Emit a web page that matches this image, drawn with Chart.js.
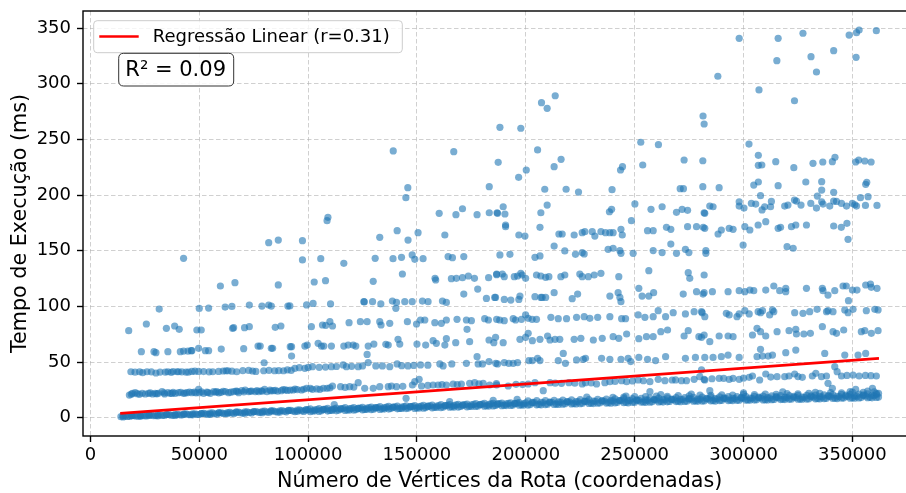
<!DOCTYPE html>
<html lang="pt-BR">
<head>
<meta charset="utf-8">
<title>Tempo de Execução x Número de Vértices</title>
<script src="https://cdn.jsdelivr.net/npm/chart.js@4.4.1/dist/chart.umd.min.js"></script>
<style>
  html, body { margin: 0; padding: 0; background: #fff; overflow: hidden; }
  #grafico { display: block; }
</style>
</head>
<body>
<canvas id="grafico" width="920" height="493"></canvas>
<script>
// Dados: [milhares de vértices, tempo em ms]
const faixaBase = [[14,1.0],[16,1.5],[18,1.2],[20,1.9],[22,1.4],[24,2.1],[26,1.6],[28,2.4],[30,1.8],[32,2.6],[34,2.0],[36,2.9],[38,2.2],[40,3.1],[42,2.4],[44,3.4],[46,2.7],[48,3.6],[50,2.9],[52,3.9],[54,3.1],[56,4.3],[58,3.3],[60,4.5],[62,3.6],[64,4.8],[66,3.9],[68,5.1],[70,4.0],[72,5.3],[74,4.3],[76,5.6],[78,4.6],[80,5.9],[82,4.8],[84,6.2],[86,5.0],[88,6.4],[90,5.3],[92,6.7],[94,5.5],[96,7.0],[98,5.7],[100,7.2],[102,6.0],[104,7.4],[106,6.3],[108,7.7],[110,6.5],[112,8.0],[114,6.8],[116,8.2],[118,7.0],[120,8.5],[122,7.2],[124,8.7],[126,7.5],[128,9.0],[130,7.7],[132,9.2],[134,8.0],[136,9.5],[138,8.2],[140,9.7],[142,8.4],[144,10.0],[146,8.7],[148,10.2],[150,8.9],[152,10.5],[154,9.1],[156,10.7],[158,9.4],[160,11.0],[162,9.6],[164,11.2],[166,9.9],[168,11.5],[170,10.1],[172,11.7],[174,10.3],[176,12.0],[178,10.6],[180,12.2],[182,10.8],[184,12.5],[186,11.0],[188,12.7],[190,11.2],[192,12.9],[194,11.4],[196,13.1],[198,11.6],[200,13.3],[202,11.8],[204,13.5],[206,12.0],[208,13.7],[210,12.2],[212,13.9],[214,12.4],[216,14.0],[218,12.6],[220,14.2],[222,12.8],[224,14.4],[226,13.0],[228,14.6],[230,13.2],[232,14.8],[234,13.3],[236,15.0],[238,13.5],[240,15.1],[242,13.7],[244,15.3],[246,13.8],[248,15.5],[250,14.0],[252,15.6],[254,14.2],[256,15.8],[258,14.3],[260,15.9],[262,14.5],[264,16.1],[266,14.6],[268,16.2],[270,14.8],[272,16.4],[274,14.9],[276,16.5],[278,15.1],[280,16.7],[282,15.2],[284,16.8],[286,15.4],[288,17.0],[290,15.5],[292,17.1],[294,15.7],[296,17.2],[298,15.8],[300,17.4],[302,16.0],[304,17.5],[306,16.1],[308,17.7],[310,16.2],[312,17.8],[314,16.4],[316,17.9],[318,16.5],[320,18.1],[322,16.7],[324,18.2],[326,16.8],[328,18.4],[330,17.0],[332,18.5],[334,17.2],[336,18.7],[338,17.3],[340,18.9],[342,17.5],[344,19.0],[346,17.7],[348,19.2],[350,17.9],[352,19.4],[354,18.1],[356,19.6],[358,18.3],[360,19.8],[362,18.6]];
const faixaBaseSup = [[15,0.7],[19,1.8],[23,1.3],[27,2.5],[31,1.7],[35,2.9],[39,2.1],[43,3.3],[47,2.6],[51,3.8],[55,3.1],[59,4.4],[63,3.6],[67,5.0],[71,4.1],[75,5.5],[79,4.5],[83,6.1],[87,5.1],[91,6.6],[95,5.6],[99,7.1],[103,6.0],[107,7.6],[111,6.5],[115,8.1],[119,6.9],[123,8.5],[127,7.4],[131,9.0],[135,7.8],[139,9.5],[143,8.3],[145,17.4],[147,10.0],[151,8.7],[155,10.4],[159,9.2],[163,10.9],[167,9.6],[171,11.4],[175,10.1],[179,11.9],[183,10.5],[187,12.4],[191,10.9],[195,12.9],[199,11.3],[203,13.4],[207,11.6],[211,13.8],[215,12.0],[219,14.3],[223,12.4],[227,14.7],[231,12.7],[235,15.1],[239,13.0],[243,15.5],[247,13.4],[251,15.9],[255,13.8],[259,16.3],[263,14.1],[267,16.7],[271,14.4],[275,17.1],[279,14.7],[283,17.5],[287,15.0],[291,17.8],[295,15.4],[299,18.2],[303,15.7],[307,18.5],[311,16.0],[315,18.9],[319,16.3],[323,19.2],[327,16.6],[331,19.6],[335,16.9],[339,19.9],[343,17.2],[347,20.3],[351,17.6],[355,20.6],[359,17.9],[361,20.9],[112,11.8],[165,14.5],[185,15.6],[196,16.5],[228,18.5],[246,19.5],[262,20.8],[276,21.3],[300,22.3],[318,23.2],[333,22.8],[349,23.5],[357,24.0]];
const faixaBaseMeio = [[15,1.6],[17,1.1],[19,1.8],[21,1.4],[23,2.0],[25,1.6],[27,2.3],[29,1.8],[31,2.5],[33,2.1],[35,2.8],[37,2.3],[39,3.0],[41,2.6],[43,3.3],[45,2.8],[47,3.5],[49,3.1],[51,3.8],[53,3.4],[55,4.1],[57,3.6],[59,4.4],[61,3.9],[63,4.7],[65,4.2],[67,5.0],[69,4.5],[71,5.2],[73,4.7],[75,5.4],[77,5.0],[79,5.7],[81,5.2],[83,6.0],[85,5.5],[87,6.2],[89,5.8],[91,6.5],[93,6.0],[95,6.8],[97,6.3],[99,7.0],
  [101,7.9],[103,7.0],[105,8.1],[107,7.3],[109,8.4],[111,7.6],[113,8.7],[115,7.8],[117,9.0],[119,8.1],[121,9.2],[123,8.4],[125,9.3],[127,8.6],[129,9.6],[131,8.9],[133,9.9],[135,9.1],[137,10.2],[139,9.4],[141,10.5],[143,9.6],[145,10.6],[147,9.9],[149,10.9],[151,10.1],[153,11.1],[155,10.2],[157,11.4],[159,10.5],[161,11.7],[163,10.8],[165,11.8],[167,11.0],[169,12.1],[171,11.3],[173,12.3],[175,11.5],[177,12.6],[179,11.7],[181,12.9],[183,12.0],[185,13.0],[187,12.2],[189,13.2],[191,12.4],[193,13.4],[195,12.6],[197,13.6],[199,12.8],
  [201,15.2],[203,13.8],[205,15.3],[207,13.9],[209,15.5],[211,14.1],[213,15.7],[215,14.2],[217,15.8],[219,14.4],[221,16.0],[223,14.6],[225,16.2],[227,14.8],[229,16.4],[231,15.0],[233,16.6],[235,15.2],[237,16.7],[239,15.3],[241,16.9],[243,15.5],[245,17.1],[247,15.6],[249,17.2],[251,15.8],[253,17.4],[255,16.0],[257,17.6],[259,16.1],[261,17.7],[263,16.3],[265,17.9],[267,16.4],[269,18.0],[271,16.5],[273,18.1],[275,16.7],[277,18.3],[279,16.8],[281,18.5],[283,17.0],[285,18.6],[287,17.1],[289,18.8],[291,17.3],[293,18.9],[295,17.5],[297,19.0],[299,17.6],[301,19.2],[303,17.7],[305,19.3],[307,17.9],[309,19.5],[311,18.0],[313,19.6],[315,18.2],[317,19.8],[319,18.3],[321,19.9],[323,18.4],[325,20.0],[327,18.6],[329,20.2],[331,18.8],[333,20.4],[335,19.0],[337,20.5],[339,19.1],[341,20.7],[343,19.3],[345,20.9],[347,19.4],[349,21.1],[351,19.6],[353,21.3],[355,19.9],[357,21.5],[359,20.1],[361,21.8]];
const faixaBaseInf = [[101,5.4],[105,5.7],[109,6.0],[113,6.2],[117,6.5],[121,6.8],[125,7.0],[129,7.3],[133,7.5],[137,7.8],[141,8.0],[145,8.2],[149,8.4],[153,8.6],[157,8.9],[161,9.1],[165,9.4],[169,9.6],[173,9.8],[177,10.1],[181,10.3],[185,10.6],[189,10.8],[193,11.0],[197,11.2],[201,11.4],[205,11.6],[209,11.8],[213,12.0],[217,12.2],[221,12.4],[225,12.6],[229,12.8],[233,13.0],[237,13.2],[241,13.3],[245,13.5],[249,13.7],[253,13.9],[257,14.0],[261,14.2],[265,14.3],[269,14.5],[273,14.6],[277,14.8],[281,15.0],[285,15.1],[289,15.3],[293,15.4],[297,15.6],[301,15.7],[305,15.9],[309,16.0],[313,16.2],[317,16.3],[321,16.5],[325,16.6],[329,16.8],[333,17.0],[337,17.1],[341,17.3],[345,17.5],[349,17.6],[353,17.8],[357,18.0],[361,18.2],
  [240,18.4],[245,18.6],[250,19.0],[255,19.0],[260,19.5],[265,19.3],[270,19.8],[275,19.7],[280,20.3],[285,20.1],[290,20.6],[295,20.4],[300,21.0],[305,20.8],[310,21.3],[315,21.1],[320,21.7],[325,21.5],[330,22.0],[335,21.9],[340,22.5],[345,22.3],[350,23.0],[355,22.8],[360,23.3],[362,22.0]];
const faixa1 = [[17.9,20.4],[18.8,21.2],[19.4,21.9],[20.6,22.5],[21.5,21.6],[22.5,21.0],[23.8,22.0],[25.2,21.3],[26.7,21.9],[27.5,22.3],[28.6,21.3],[29.8,21.9],[30.5,21.5],[31.2,22.0],[32.9,23.4],[33.8,22.4],[34.1,21.3],[35.6,22.5],[36.7,21.9],[37.5,21.8],[38,22.8],[39,21.9],[40.5,22.5],[41.5,22.9],[42.8,21.9],[43.5,22.2],[44.4,22.5],[45.5,23.1],[46.6,22.5],[47.8,23.0],[48.5,22.4],[49.7,25.5],[50,22.5],[51,23.3],[52,21.9],[53.5,23.0],[54,22.6],[55.1,21.9],[56.6,23.4],[57.5,23.0],[58.1,23.4],[59,22.4],[60,22.8],[61,23.8],[62,23.4],[63.5,22.5],[64.5,23.0],[65.8,23.4],[66.9,24.0],[67.5,23.6],[68.1,22.5],[69.5,24.3],[70.5,23.3],[71.1,24.9],[72.7,23.4],[73.5,23.8],[74,24.0],[75.7,23.4],[76.5,24.4],[77.3,23.4],[78.5,24.2],[79,23.8],[80,25.5],[81.1,23.4],[82.5,24.8],[83,24.0],[84.1,24.3],[85,24.6],[86,23.8],[87.7,24.3],[88.5,25.2],[89.5,25.0],[90.5,24.5],[91.8,24.9],
  [93.1,24.9],[94,25.8],[95,25.2],[97,24.9],[98,25.6],[99.3,26.4],[101,26.3],[102,25.5],[104,25.9],[105.4,25.5],[107,26.5],[108.7,26.4],[110,26.8],[111.2,28.5],[114.9,27.9],[117,27.2],[119.1,27.9],[121,27.5],[123,31.5],[126,26.4],[129.9,26.4],[132.9,27.9],[136.8,27.9],[138.3,28.5],[140.6,27.9],[143.5,28.2],[147.9,29.4],[149,32.4],[151,34.5],[152.1,28.5],[155,29.0],[157.4,29.4],[159.7,29.4],[161.5,29.8],[163.5,29.4],[166.6,30.3],[168.5,29.8],[170.4,30.3],[174.2,30.9],[176.5,31.5],[178.5,30.5],[180.4,30.9],[183.4,29.4],[186.5,30.6],
  [186.6,29.4],[191.9,28.5],[195.5,30.0],[198.5,29.8],[201.1,30.3],[204.2,31.5],[208,24.3],[211.1,31.5],[213.5,31.0],[216.4,30.9],[219.8,31.5],[222.5,31.0],[225.9,30.3],[227.4,31.5],[230,31.2],[232.5,30.3],[236.3,31.5],[238.6,32.4],[241,32.6],[244,33.3],[246.3,32.4],[249,33.0],[251.6,33.9],[254,33.2],[257,32.4],[257,23.4],[260.8,34.5],[263.9,33.3],[267.2,33.9],[268.8,34.0],[271.5,33.3],[273.8,33.3],[277.3,34.5],[279.9,36.9],[281.9,34.5],
  [280.7,42.9],[282.2,33.9],[284.5,24.3],[285.5,35.0],[288.8,35.4],[290.9,35.4],[293.4,34.5],[295.2,35.4],[298,34.5],[300,35.5],[302.6,36.3],[304.1,37.5],[307.4,33.9],[310.2,39.3],[312.5,36.5],[315.4,36.9],[318.9,36.9],[320.9,37.5],[323.5,39.3],[325,37.0],[327,36.3],[331.6,37.5],[333.2,39.9],[335.8,36.9],[338.1,37.5],[338.8,30.9],[340.8,26.4],[341.9,45.9],[343,41.4],[345,37.5],[347.5,38.0],[350.3,38.4],[351.5,25.5],[353.1,37.5],[356,38.0],[358.5,37.8],[359.2,26.4],[361,37.5]];
const faixa2 = [[18.6,41.3],[20.5,40.9],[22.6,41.3],[24,40.5],[26,41.3],[28,41.2],[30.1,40.2],[32,41.0],[34.4,41.0],[35.6,41.3],[37.1,40.8],[38,41.5],[39.8,41.3],[40.5,41.3],[42,41.2],[43.9,41.0],[45,40.9],[46.6,41.6],[48,41.8],[49.7,41.6],[52,41.5],[54.5,41.2],[56.2,41.3],[58.9,41.6],[61,42.0],[62.3,42.2],[63.2,42.2],[65,41.8],[67.2,41.3],[70,42.3],[72.7,42.5],[74.5,42.0],[76,41.6],[79.6,42.2],[79.8,49.4],[82,42.6],[84.6,42.2],[86.5,42.3],[88.7,42.2],[90.5,43.0],[92.2,42.5],
  [92.4,55.4],[93.9,44.4],[96,45.0],[98.5,44.4],[100,45.2],[102,45.9],[105.1,45.3],[108,45.5],[110.7,45.9],[113,46.0],[116.1,47.4],[117.6,45.9],[120,46.2],[123,45.9],[125,46.5],[127.1,56.9],[127.6,49.5],[131.1,46.5],[134.1,46.5],[137.5,45.9],[140.9,48.3],[143,46.8],[145.9,46.5],[148.5,47.0],[151.6,47.4],[155,47.2],[160.5,48.3],[162,46.5],[166,48.3],[172.7,48.9],[177.6,54.8],[178.1,48.3],[180.1,48.3],[183.1,50.4],[186.2,48.9],
  [187,48.3],[190.1,49.5],[192.2,48.9],[194.2,48.9],[196.2,49.5],[201.4,51.3],[203,51.3],[205.4,53.4],[206.5,51.3],[214.9,51.3],[217.2,57.8],[218.2,48.9],[223.3,51.9],[226.4,52.5],[227.4,53.4],[234.8,53.4],[238.6,52.5],[243.7,52.5],[247,53.4],[248.2,50.4],[251.9,54.2],[255.9,52.5],[259.6,51.3],[264.2,54.8],[273.3,53.4],[277.9,54.2],[282.2,54.2],
  [286,54.2],[289.8,54.8],[292.9,56.3],[298,54.2],[306.2,54.8],[307.8,61.4],[308.7,55.4],[311.3,55.4],[313.3,56.3],[319.4,58.4],[324,60.8],[337.3,57.8],[346.5,56.3],[352.6,56.3],[356.1,57.8]];
const faixa3 = [[23.4,59.3],[29.2,59.3],[30.1,58.4],[35.6,59.3],[41.3,59.3],[42.8,59.9],[44.8,59.9],[46.3,60.2],[46.6,60.2],[49.7,62.3],[52.8,60.2],[54.3,60.2],[60.1,61.7],[70.4,62.0],[77,64.4],[78,64.4],[83.1,62.3],[83.7,62.3],[91.8,63.8],
  [92.4,63.8],[98.5,64.4],[99.6,65.3],[104.6,66.8],[106.1,64.4],[107.2,64.4],[110.7,64.4],[116.4,64.4],[118.4,65.3],[120.7,65.3],[121.9,64.4],[127.6,64.4],[130.2,66.2],[135.7,65.9],[136.8,65.3],[141.3,70.4],[142.1,66.2],[150,66.2],[154,65.3],[157.4,69.2],[158.9,66.8],[162.8,65.3],[163.5,71.0],[167.8,67.4],[174.2,68.3],[183.1,69.8],[185.3,67.4],
  [186.1,72.2],[189.6,67.4],[197.3,70.4],[199.9,72.2],[201.1,75.8],[203,69.2],[206.5,70.4],[210,73.4],[211.1,69.8],[213.4,70.4],[215.6,70.4],[222.2,70.4],[225.3,71.3],[231,69.8],[235.1,71.3],[240.1,72.8],[242.7,71.3],[246.3,75.2],[251.9,71.0],[255.4,72.8],[258.5,72.8],[262,77.3],[265.1,78.8],[272.7,73.4],[274.6,78.2],[279.5,72.8],[281.9,74.3],
  [280.7,72.2],[284.5,68.3],[288.8,73.4],[292.9,73.4],[295.2,72.8],[304.1,74.3],[306.2,80.3],[307.8,77.3],[310.2,73.4],[315.4,77.3],[320.9,78.2],[324,79.4],[324.3,75.2],[327.7,75.2],[330.7,75.8],[336.2,81.8],[341.1,77.3],[342.7,75.8],[346,78.8],[354.1,77.3],[355.7,78.2],[358.7,75.8],[361.8,78.2]];
const faixa4 = [[17.6,78.2],[25.7,84.2],[34.9,80.3],[38.7,82.4],[40.8,79.4],[48.9,78.8],[50.9,78.8],[65.3,80.3],[65.8,80.9],[70.8,80.9],[73,81.8],[84.9,81.2],[87.5,82.4],
  [101.5,81.8],[106.6,83.3],[108.1,83.0],[110,86.3],[111.2,82.4],[118.8,85.4],[124,86.3],[127.1,86.3],[132.9,86.3],[133.5,83.3],[137.5,84.8],[145.6,86.3],[149.8,84.2],[151.6,87.8],[153.6,87.8],[158.2,85.4],[161.2,84.8],[163.5,87.8],[168.4,88.4],[173,79.4],[172.7,87.8],[175,87.2],[181.1,89.0],[182.8,87.8],[188,87.8],
  [186.6,88.4],[190.1,87.2],[194.2,89.0],[195.3,87.8],[198,88.4],[199.9,92.3],[201.1,89.3],[202.9,88.4],[204.9,88.4],[211.5,90.2],[214.9,89.0],[218.7,89.0],[223.3,90.2],[226.8,90.8],[229.4,89.3],[233,90.2],[238.6,90.8],[244,89.0],[245.8,89.0],[251.6,92.3],[254.7,90.2],[258.5,90.8],[260.8,96.2],[264.2,90.8],[267.7,94.4],[273.3,93.2],[277.3,95.3],[281,94.4],
  [280.7,95.3],[282.2,90.8],[292.1,93.8],[293.4,92.3],[297,90.8],[298,93.2],[300.6,96.2],[302.6,93.2],[306.7,95.3],[307.8,94.4],[308.7,96.2],[312,92.3],[313.3,96.8],[313.9,95.3],[323.5,94.4],[327.3,93.8],[330.4,95.3],[333.8,97.4],[338.1,95.3],[338.8,96.2],[341.1,95.3],[346.5,96.8],[348,94.4],[350.3,97.4],[356.4,96.2],[360.3,97.4],[361.8,96.8]];
const faixa5 = [[31.6,97.6],[50,98.2],[54.3,98.5],[61.9,99.4],[65,100.0],[73,101.2],[78.8,100.3],[81.9,101.2],[83.1,100.3],[90.7,100.3],
  [91.6,100.4],[99.3,101.3],[102.3,102.7],[110.3,102.2],[125.6,104.2],[125.8,104.0],[129.6,104.2],[133.4,102.2],[138.7,104.8],[140.3,98.3],[140.6,103.6],[144.4,104.2],[147.8,104.2],[152.5,104.8],[155.1,104.2],[161.7,104.8],[163.5,103.6],[171.5,111.1],[177.9,115.6],[181.9,107.2],[185.7,108.1],
  [186.1,108.1],[190.1,106.3],[193.1,105.7],[196.8,106.3],[197.3,109.3],[204.2,108.7],[206.9,108.1],[207.5,108.1],[209.1,108.1],[213,112.3],[221.3,106.9],[223.8,111.1],[238.6,109.3],[242.4,112.3],[243.2,108.1],[243.7,104.2],[251.9,116.2],[253.4,109.3],[256.5,109.3],[258.7,112.3],[272.3,111.1],[278.4,113.2],[281.9,112.3],
  [281.4,111.1],[285.7,113.2],[292.9,113.2],[298,114.1],[300.6,113.2],[302.9,114.7],[304.7,114.1],[310.2,114.7],[313.9,118.3],[316.6,114.1],[319.4,116.2],[319.4,113.2],[328.9,116.2],[336.2,116.2],[336.5,114.1],[338.8,110.2],[341.9,114.1],[345.7,118.3],[347.2,118.3],[348.2,105.1],[350,114.7],[352.1,114.7],[356.1,119.2],[358.3,120.1],[358.7,117.1],[361.3,116.2]];
const faixa6 = [[59.7,118.3],[66.4,121.3],[86.3,119.3],[102.8,121.9],[108,123.1],[129.9,122.5],[143.3,129.1],[158.3,125.2],[158.6,123.7],[165.8,124.9],[168.1,125.2],[170.9,125.8],[173.6,127.3],[176.4,125.2],[182.9,125.8],[186.6,128.5],
  [186.6,129.1],[189.2,129.1],[190.1,126.7],[194.7,126.7],[196.2,127.3],[197.7,129.7],[198.3,128.2],[199.9,125.2],[204.9,128.2],[206.9,127.3],[209.1,126.1],[210.6,126.7],[216.1,126.7],[217.9,128.2],[224.8,129.1],[225.9,126.7],[228.7,126.7],[231.4,128.2],[234.5,129.7],[242.7,126.7],[256.5,132.1],[274.6,130.3],[275.3,125.2],[281.9,128.2]];
const faixa7 = [[42.8,143.2],[81.9,157.2],[86.3,159.6],[97.4,141.7],[97.4,159.0],[105.8,142.9],[116.4,138.7],[130.8,143.2],[132.9,162.0],[139,142.9],[142.9,144.1],[145.9,159.6],[147.8,146.2],[149,142.3],[152.8,142.9],[162.8,164.1],[164.3,144.7],[166.3,143.8],[171.5,144.7],
  [188.1,146.2],[192.7,146.8],[204.2,144.1],[206.5,145.3],[213,154.2],[217.9,149.8],[222.8,146.8],[225.9,148.3],[226.8,147.1],[237.8,151.3],[240.1,152.2],[243.2,150.1],[243.7,147.7],[249.3,147.7],[258.5,150.1],[262.6,148.3],[266.6,156.0],[269.2,147.7],[273.3,151.3],[274.9,148.3],
  [282.7,150.1],[282.7,147.7],[299.8,155.1],[320,153.6],[322.8,152.2],[348,160.2]];
const pontosAltos = [[108.7,177],[140.9,168],[150.5,166.2],[190.7,171.6],[196.8,164.1],[199.6,163.2],[206.5,171],[215.2,165],[216.7,165],[222.2,164.1],[225.9,166.2],[227.1,167.1],[230.5,167.1],[231.7,163.2],[234.5,167.1],[236.6,166.2],[238.6,166.2],[240.1,166.2],[243.7,169.2],[244.3,164.1],[248.5,177],[255.9,168],[258.5,168],[264.6,171],[266.6,169.2],[274.3,171.6],[278.4,171.6],[281.5,171],
  [282.2,170.1],[288.3,165],[289.8,168.6],[293.4,170.1],[295.2,169.2],[300.6,171.6],[302.9,168.6],[306.7,173.1],[310.2,176.1],[315.9,170.1],[317,171],[322,171.6],[324,173.1],[328.9,173.1],[341.4,172.2],[344.9,171],[347.5,174.6],
  [139.1,239.6],[166.9,239],[145.8,206.6],[144.9,197.6],[109.1,180],[160.2,183.6],[167.9,182.4],[170.9,187.7],[177.6,182.4],[183.2,184.1],[186.8,184.1],[188.1,260.8],[187.3,229.4],[183.2,207.5],
  [197.7,260],[207.2,283],[209.8,277.9],[213.5,289.2],[205.4,240.5],[216.2,232.1],[213,225.5],[200.2,222.5],[196.7,215.9],[208.7,205.2],[218.5,205.2],[224.2,202.7],[239.6,204.8],[243.5,222.5],[244.4,225.5],[252.8,247.4],[253.7,227],[260.9,245.2],[272.7,231.5],[270.9,205.7],[272.4,205.7],[281.4,271],[281.9,263.8],[281.3,230.8],[281.3,207.5],[189.6,189.5],[187,183.6],[190.4,183],[206.9,184.1],[209.8,191],[238.4,185],[239.4,187.2],[250.1,192],[257.5,187.2],[262.6,189.5],[269.2,184.5],[271.8,187.2],[274.3,186.3],[281.9,184.1],[190.7,173],
  [298,340.8],[315.9,340.8],[327.3,345.3],[348.5,343.7],[351.9,345.8],[353.1,348.2],[361,347.6],[341.4,329.7],[331,324.3],[351.7,323.7],[315.3,320.7],[333.5,310.5],[288.2,306.7],[307.1,294.4],[323.4,284.7],[302.5,245.8],[306.8,235.7],[306.8,226.7],[308.4,227],[314.8,230],[323.1,224.6],[331.9,228.5],[336.4,229.7],[340.8,230],[342,233.9],[351.5,229.7],[352.9,231.5],[355.7,230.6],[358.6,229.7],
  [288.8,206.6],[304.7,209],[306.8,211.7],[315.9,208.4],[328.6,211.7],[335.9,212],[335.9,204.5],[341.4,202.5],[356.1,209.6],[356.6,211.4],[307.8,199.4],[333.9,199.1],[353.7,197.6],[357.2,198.5],
  [282.2,183.6],[284.5,190.1],[286,189.5],[298,193.9],[298,190.1],[300.2,188.3],[303.6,192.5],[305.6,191.9],[308.5,186.6],[309.7,189.5],[312.4,189.5],[312.8,194.3],[318.9,190.1],[320.4,191],[323.4,195.5],[324.3,194.6],[326.4,191],[330.9,192.5],[333.5,188.3],[335.9,193.9],[336.5,191.9],[339.6,190.1],[341.4,194.6],[342.7,194.3],[345,192.5],[347.3,190.1],[350,192.5],[351.1,191.3],[351.9,190.1],[356,190.7],[361.3,190.7]];

// Regressão linear (extremos da reta)
const retaX = [13700, 362200];
const retaY = [3.9, 53.3];
const rotuloReta = "Regressão Linear (r=0.31)";
const textoR2 = "R² = 0.09";

// Marcas dos eixos
const ticksX = [0, 50000, 100000, 150000, 200000, 250000, 300000, 350000];
const ticksY = [0, 50, 100, 150, 200, 250, 300, 350];

const fonte = "'DejaVu Sans', 'Liberation Sans', sans-serif";

const pontos = [faixaBase, faixaBaseSup, faixaBaseMeio, faixaBaseInf, faixa1, faixa2, faixa3, faixa4, faixa5, faixa6, faixa7, pontosAltos]
  .flat()
  .map(p => ({ x: p[0] * 1000, y: p[1] }));

const reta = retaX.map((x, i) => ({ x: x, y: retaY[i] }));

function zeraPadding(scale) {
  scale.paddingLeft = 0;
  scale.paddingRight = 0;
  scale.paddingTop = 0;
  scale.paddingBottom = 0;
}

function caixaArredondada(ctx, x, y, w, h, r) {
  ctx.beginPath();
  ctx.moveTo(x + r, y);
  ctx.lineTo(x + w - r, y);
  ctx.quadraticCurveTo(x + w, y, x + w, y + r);
  ctx.lineTo(x + w, y + h - r);
  ctx.quadraticCurveTo(x + w, y + h, x + w - r, y + h);
  ctx.lineTo(x + r, y + h);
  ctx.quadraticCurveTo(x, y + h, x, y + h - r);
  ctx.lineTo(x, y + r);
  ctx.quadraticCurveTo(x, y, x + r, y);
  ctx.closePath();
}

// Moldura, legenda e caixa do R²
const molduraPlugin = {
  id: "moldura",
  afterDatasetsDraw(chart) {
    const ctx = chart.ctx;
    const a = chart.chartArea;
    ctx.save();
    ctx.strokeStyle = "#000";
    ctx.lineWidth = 1.4;
    ctx.strokeRect(a.left, a.top, a.right - a.left, a.bottom - a.top);

    // legenda
    caixaArredondada(ctx, 93.7, 20.7, 308.6, 32, 3.5);
    ctx.fillStyle = "rgba(255,255,255,0.8)";
    ctx.fill();
    ctx.strokeStyle = "#cccccc";
    ctx.lineWidth = 1;
    ctx.stroke();
    ctx.strokeStyle = "#ff0000";
    ctx.lineWidth = 2.6;
    ctx.beginPath();
    ctx.moveTo(99.3, 36.5);
    ctx.lineTo(138.7, 36.5);
    ctx.stroke();
    ctx.fillStyle = "#000";
    ctx.font = "18px " + fonte;
    ctx.textBaseline = "middle";
    ctx.textAlign = "left";
    ctx.fillText(chart.data.datasets[1].label, 152.7, 37);

    // caixa do R²
    caixaArredondada(ctx, 118.7, 53.3, 115, 32.7, 5);
    ctx.fillStyle = "rgba(255,255,255,0.85)";
    ctx.fill();
    ctx.strokeStyle = "#333";
    ctx.lineWidth = 1;
    ctx.stroke();
    ctx.fillStyle = "#000";
    ctx.font = "21px " + fonte;
    ctx.fillText(textoR2, 125.3, 70.5);
    ctx.restore();
  }
};

new Chart(document.getElementById("grafico"), {
  type: "scatter",
  data: {
    datasets: [
      {
        label: "Dados",
        data: pontos,
        order: 1,
        pointRadius: 3.6,
        pointHoverRadius: 3.6,
        backgroundColor: "rgba(31,119,180,0.6)",
        borderWidth: 0
      },
      {
        type: "line",
        label: rotuloReta,
        data: reta,
        order: 0,
        borderColor: "#ff0000",
        borderWidth: 2.8,
        pointRadius: 0,
        fill: false
      }
    ]
  },
  options: {
    responsive: false,
    animation: false,
    layout: { padding: { top: 11, right: 3.3, left: 0, bottom: 0 } },
    plugins: {
      legend: { display: false },
      tooltip: { enabled: false }
    },
    scales: {
      x: {
        type: "linear",
        min: -3400,
        max: 379400,
        afterBuildTicks: function (scale) {
          scale.ticks = ticksX.map(v => ({ value: v }));
        },
        afterFit: function (scale) {
          scale.height = 57;
          zeraPadding(scale);
        },
        ticks: {
          callback: v => String(v),
          color: "#000",
          font: { family: fonte, size: 18 },
          padding: 3,
          maxRotation: 0,
          autoSkip: false
        },
        grid: {
          color: "rgba(176,176,176,0.6)",
          lineWidth: 1,
          tickLength: 6,
          tickColor: "#000",
          tickWidth: 1.4,
          tickBorderDash: []
        },
        border: { display: false, dash: [4.5, 2.5] },
        title: {
          display: true,
          text: "Número de Vértices da Rota (coordenadas)",
          color: "#000",
          font: { family: fonte, size: 20.7, lineHeight: 1.1 },
          padding: { top: 0, bottom: 0 }
        }
      },
      y: {
        type: "linear",
        min: -16.4,
        max: 365.3,
        afterBuildTicks: function (scale) {
          scale.ticks = ticksY.map(v => ({ value: v }));
        },
        afterFit: function (scale) {
          scale.width = 83;
          zeraPadding(scale);
        },
        ticks: {
          color: "#000",
          font: { family: fonte, size: 18 },
          padding: 6
        },
        grid: {
          color: "rgba(176,176,176,0.6)",
          lineWidth: 1,
          tickLength: 6,
          tickColor: "#000",
          tickWidth: 1.4,
          tickBorderDash: []
        },
        border: { display: false, dash: [4.5, 2.5] },
        title: {
          display: true,
          text: "Tempo de Execução (ms)",
          color: "#000",
          font: { family: fonte, size: 20.7 },
          padding: { top: 8, bottom: 0 }
        }
      }
    }
  },
  plugins: [molduraPlugin]
});
</script>
</body>
</html>
